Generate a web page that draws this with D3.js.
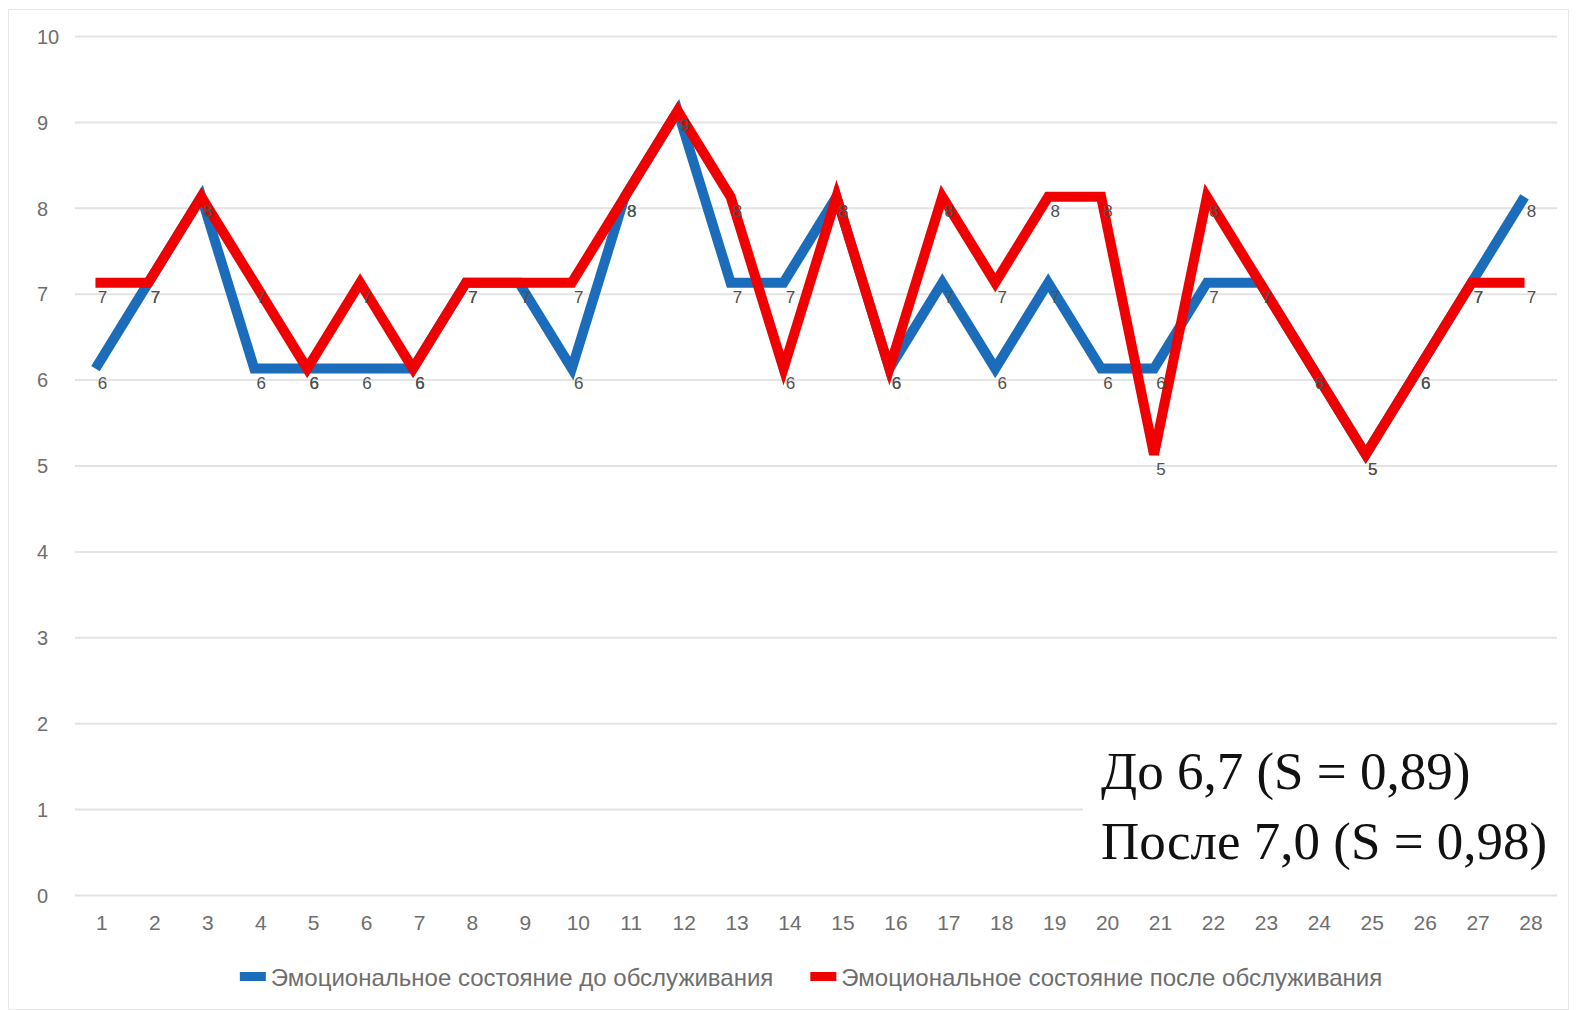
<!DOCTYPE html>
<html>
<head>
<meta charset="utf-8">
<script src="https://cdn.jsdelivr.net/npm/d3@7"></script>
<style>
  html, body { margin: 0; padding: 0; background: #fff; }
  svg { display: block; font-family: "Liberation Sans", Arial, sans-serif; }
</style>
</head>
<body>
<div id="chart"></div>
<script>
// respondents 1..28
const categories = d3.range(1, 29).map(String);
const beforeValues = [6, 7, 8, 6, 6, 6, 6, 7, 7, 6, 8, 9, 7, 7, 8, 6, 7, 6, 7, 6, 6, 7, 7, 6, 5, 6, 7, 8];
const afterValues  = [7, 7, 8, 7, 6, 7, 6, 7, 7, 7, 8, 9, 8, 6, 8, 6, 8, 7, 8, 8, 5, 8, 7, 6, 5, 6, 7, 7];
const yTicks = d3.range(0, 11);
const seriesNames = ['Эмоциональное состояние до обслуживания', 'Эмоциональное состояние после обслуживания'];
const summaryLines = ['До 6,7 (S = 0,89)', 'После 7,0 (S = 0,98)'];

const width = 1580, height = 1010;
const plot = { left: 75, right: 1557, top: 36, bottom: 895 };
const colors = ['#1b6dbb', '#f00000'];

const series = [beforeValues, afterValues].map((values, i) => ({
  name: seriesNames[i],
  color: colors[i],
  points: values.map((v, j) => ({ cat: categories[j], value: v }))
}));

const svg = d3.select('#chart').append('svg')
  .attr('width', width)
  .attr('height', height);

// outer frame
svg.append('rect')
  .attr('x', 8.5).attr('y', 9.5)
  .attr('width', 1560).attr('height', 1000)
  .attr('fill', '#fff')
  .attr('stroke', '#e8e8e8');

const x = d3.scalePoint().domain(categories).range([plot.left, plot.right]).padding(0.5);
const y = d3.scaleLinear().domain([0, 10]).range([plot.bottom, plot.top]);

// y axis + gridlines
const yAxis = svg.append('g')
  .attr('transform', `translate(${plot.left},0)`)
  .call(d3.axisLeft(y).tickValues(yTicks).tickSizeInner(-(plot.right - plot.left)).tickSizeOuter(0));
yAxis.select('.domain').remove();
yAxis.selectAll('line').attr('stroke', '#e3e3e3').attr('stroke-width', 2);
yAxis.selectAll('text')
  .attr('x', 37 - plot.left)
  .attr('dy', '0.36em')
  .attr('text-anchor', 'start')
  .attr('fill', '#6e6e6e')
  .style('font-size', '20px');

// x axis labels
const xAxis = svg.append('g')
  .attr('transform', `translate(0,${plot.bottom})`)
  .call(d3.axisBottom(x).tickSize(0));
xAxis.select('.domain').remove();
xAxis.selectAll('text')
  .attr('y', 35)
  .attr('dy', 0)
  .attr('fill', '#6e6e6e')
  .style('font-size', '21px');

// white box behind the summary text
svg.append('rect')
  .attr('x', 1083).attr('y', 730)
  .attr('width', 482).attr('height', 152)
  .attr('fill', '#fff');

// lines (the screenshot draws them slightly up-left of their labels)
const line = d3.line().x(d => x(d.cat)).y(d => y(d.value));
const lines = svg.append('g').attr('transform', 'translate(-6,-11)');
lines.selectAll('path')
  .data(series)
  .enter()
  .append('path')
  .attr('d', d => line(d.points))
  .attr('fill', 'none')
  .attr('stroke', d => d.color)
  .attr('stroke-width', 10)
  .attr('stroke-linejoin', 'miter')
  .attr('stroke-linecap', 'butt');

// data labels for both series
const labels = svg.append('g');
series.forEach(s => {
  labels.selectAll(null)
    .data(s.points)
    .enter()
    .append('text')
    .attr('x', d => x(d.cat) + 1)
    .attr('y', d => y(d.value) + 9)
    .attr('text-anchor', 'middle')
    .attr('fill', '#505050')
    .style('font-size', '17px')
    .text(d => d.value);
});

// summary text
svg.append('g')
  .selectAll('text')
  .data(summaryLines)
  .enter()
  .append('text')
  .attr('x', 1101)
  .attr('y', (d, i) => 789 + i * 70)
  .style('font-family', '"Liberation Serif", "Times New Roman", serif')
  .style('font-size', '53px')
  .attr('fill', '#111')
  .text(d => d);

// legend
const legend = svg.append('g');
const items = legend.selectAll('g')
  .data(series)
  .enter()
  .append('g');
items.append('rect')
  .attr('width', 26).attr('height', 9)
  .attr('y', -5)
  .attr('fill', d => d.color);
items.append('text')
  .attr('x', 31)
  .attr('dy', '0.36em')
  .attr('fill', '#6e6e6e')
  .style('font-size', '24px')
  .text(d => d.name);

let offset = 0;
const itemWidths = [];
items.each(function () { itemWidths.push(this.getBBox().width); });
const gap = 37;
const total = d3.sum(itemWidths) + gap * (itemWidths.length - 1);
const startX = 811 - total / 2;
items.attr('transform', (d, i) => {
  const tx = startX + offset;
  offset += itemWidths[i] + gap;
  return `translate(${tx},977)`;
});
</script>
</body>
</html>
